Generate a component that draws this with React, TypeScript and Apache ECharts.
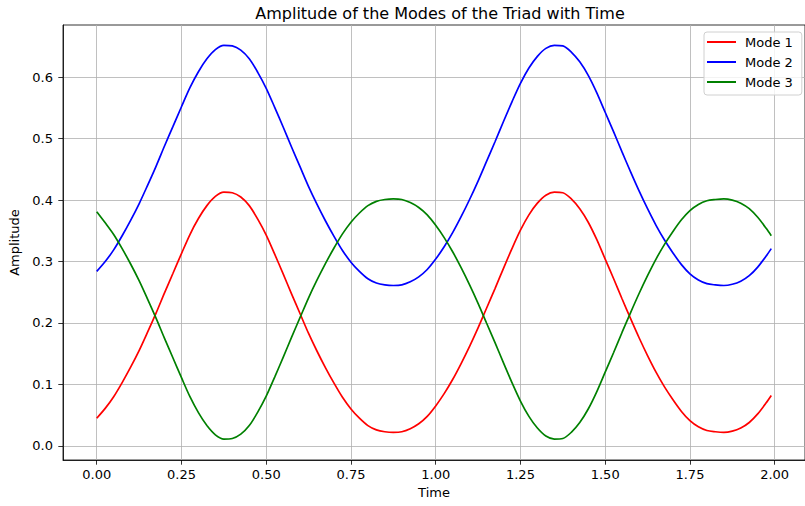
import React, { useEffect, useRef } from "react";
import * as echarts from "echarts";

const time = [0.0, 0.025, 0.05, 0.075, 0.1, 0.125, 0.15, 0.175, 0.2, 0.225, 0.25, 0.275, 0.3, 0.325, 0.35, 0.375, 0.4, 0.425, 0.45, 0.475, 0.5, 0.525, 0.55, 0.575, 0.6, 0.625, 0.65, 0.675, 0.7, 0.725, 0.75, 0.775, 0.8, 0.825, 0.85, 0.875, 0.9, 0.925, 0.95, 0.975, 1.0, 1.025, 1.05, 1.075, 1.1, 1.125, 1.15, 1.175, 1.2, 1.225, 1.25, 1.275, 1.3, 1.325, 1.35, 1.375, 1.4, 1.425, 1.45, 1.475, 1.5, 1.525, 1.55, 1.575, 1.6, 1.625, 1.65, 1.675, 1.7, 1.725, 1.75, 1.775, 1.8, 1.825, 1.85, 1.875, 1.9, 1.925, 1.95, 1.975, 1.99];
const mode1 = [0.045, 0.061, 0.080, 0.103, 0.128, 0.155, 0.185, 0.216, 0.249, 0.281,
  0.313, 0.344, 0.370, 0.391, 0.406, 0.413, 0.412, 0.405, 0.391, 0.369,
  0.343, 0.312, 0.280, 0.247, 0.215, 0.183, 0.154, 0.127, 0.102, 0.079,
  0.060, 0.045, 0.033, 0.026, 0.023, 0.022, 0.023, 0.028, 0.036, 0.048,
  0.065, 0.085, 0.108, 0.134, 0.162, 0.192, 0.224, 0.256, 0.289, 0.321,
  0.351, 0.376, 0.395, 0.408, 0.413, 0.412, 0.402, 0.386, 0.364, 0.336,
  0.304, 0.272, 0.239, 0.207, 0.176, 0.147, 0.120, 0.096, 0.075, 0.056,
  0.041, 0.031, 0.025, 0.023, 0.022, 0.024, 0.029, 0.038, 0.052, 0.070,
  0.082];
const mode2 = [0.284, 0.300, 0.319, 0.342, 0.367, 0.394, 0.424, 0.455, 0.488, 0.520,
  0.552, 0.583, 0.609, 0.630, 0.645, 0.652, 0.651, 0.644, 0.630, 0.608,
  0.582, 0.551, 0.519, 0.486, 0.454, 0.422, 0.393, 0.366, 0.341, 0.318,
  0.299, 0.284, 0.272, 0.265, 0.262, 0.261, 0.262, 0.267, 0.275, 0.287,
  0.304, 0.324, 0.347, 0.373, 0.401, 0.431, 0.463, 0.495, 0.528, 0.560,
  0.590, 0.615, 0.634, 0.647, 0.652, 0.651, 0.641, 0.625, 0.603, 0.575,
  0.543, 0.511, 0.478, 0.446, 0.415, 0.386, 0.359, 0.335, 0.314, 0.295,
  0.280, 0.270, 0.264, 0.262, 0.261, 0.263, 0.268, 0.277, 0.291, 0.309,
  0.321];
const mode3 = [0.381, 0.363, 0.344, 0.321, 0.296, 0.269, 0.239, 0.208, 0.175, 0.143,
  0.111, 0.080, 0.054, 0.033, 0.018, 0.011, 0.012, 0.019, 0.033, 0.055,
  0.081, 0.112, 0.144, 0.177, 0.209, 0.241, 0.270, 0.297, 0.322, 0.345,
  0.364, 0.379, 0.391, 0.398, 0.401, 0.402, 0.401, 0.396, 0.388, 0.376,
  0.359, 0.339, 0.316, 0.290, 0.262, 0.232, 0.200, 0.168, 0.135, 0.103,
  0.073, 0.048, 0.029, 0.016, 0.011, 0.012, 0.022, 0.038, 0.060, 0.088,
  0.120, 0.152, 0.185, 0.217, 0.248, 0.277, 0.304, 0.328, 0.349, 0.368,
  0.383, 0.393, 0.399, 0.401, 0.402, 0.400, 0.395, 0.386, 0.372, 0.354,
  0.342];
const xTicks = [0, 0.25, 0.5, 0.75, 1.0, 1.25, 1.5, 1.75, 2.0];
const yTicks = [0.0, 0.1, 0.2, 0.3, 0.4, 0.5, 0.6];

const FONT = "DejaVu Sans";

export default function App() {
  const ref = useRef<HTMLDivElement>(null);
  useEffect(() => {
    if (!ref.current) return;
    const chart = echarts.init(ref.current, undefined, { renderer: "svg" });
    const mk = (name: string, data: number[], color: string) => ({
      name,
      type: "line",
      data: time.map((t, i) => [t, data[i]]),
      smooth: 0.3,
      showSymbol: false,
      symbol: "none",
      lineStyle: { color, width: 1.7 },
      itemStyle: { color },
      z: 3,
    });
    chart.setOption({
      animation: false,
      backgroundColor: "#ffffff",
      textStyle: { fontFamily: FONT },
      title: {
        text: "Amplitude of the Modes of the Triad with Time",
        left: 435,
        textAlign: "center",
        top: 0,
        textStyle: { fontFamily: FONT, fontSize: 16, fontWeight: "normal", color: "#000" },
      },
      legend: {
        left: 704,
        top: 32,
        orient: "vertical",
        icon: "rect",
        itemWidth: 29,
        itemHeight: 2,
        itemGap: 6,
        padding: [3, 9, 6, 3],
        borderColor: "#d0d0d0",
        borderWidth: 1,
        borderRadius: 3,
        backgroundColor: "rgba(255,255,255,0.8)",
        textStyle: { fontFamily: FONT, fontSize: 13, color: "#000", lineHeight: 14, padding: [0, 0, 0, 4] },
        data: ["Mode 1", "Mode 2", "Mode 3"],
      },
      grid: { left: 63, top: 25, right: -2, bottom: 46, show: true, borderColor: "#000", borderWidth: 0.8, backgroundColor: "transparent" },
      xAxis: {
        type: "value",
        min: -0.0995,
        max: 2.0895,
        name: "Time",
        nameLocation: "middle",
        nameGap: 25,
        nameTextStyle: { fontFamily: FONT, fontSize: 13, color: "#000" },
        axisLine: { show: true, onZero: false, lineStyle: { color: "#000", width: 0.8 } },
        axisTick: { show: true, length: 4.7, customValues: xTicks, lineStyle: { color: "#000", width: 0.8 } },
        axisLabel: { customValues: xTicks, formatter: (v: number) => v.toFixed(2), fontFamily: FONT, fontSize: 13, color: "#000", margin: 8 },
        splitLine: { show: true, lineStyle: { color: "#b0b0b0", width: 0.8 } },
      },
      yAxis: {
        type: "value",
        min: -0.023,
        max: 0.685,
        name: "Amplitude",
        nameLocation: "middle",
        nameGap: 38,
        nameRotate: 90,
        nameTextStyle: { fontFamily: FONT, fontSize: 13, color: "#000" },
        axisLine: { show: true, onZero: false, lineStyle: { color: "#000", width: 0.8 } },
        axisTick: { show: true, length: 4.7, customValues: yTicks, lineStyle: { color: "#000", width: 0.8 } },
        axisLabel: { customValues: yTicks, formatter: (v: number) => v.toFixed(1), fontFamily: FONT, fontSize: 13, color: "#000", margin: 10 },
        splitLine: { show: true, lineStyle: { color: "#b0b0b0", width: 0.8 } },
      },
      series: [mk("Mode 1", mode1, "#ff0000"), mk("Mode 2", mode2, "#0000ff"), mk("Mode 3", mode3, "#008000")],
    });
    return () => chart.dispose();
  }, []);
  return <div ref={ref} style={{ position: "fixed", left: 0, top: 0, width: 805, height: 506 }} />;
}
